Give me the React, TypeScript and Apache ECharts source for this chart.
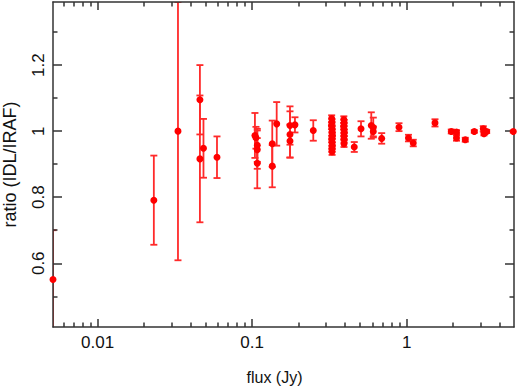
import React, { useEffect, useRef } from "react";
import * as echarts from "echarts";

// flux (Jy), ratio (IDL/IRAF), symmetric error
const flux = [
  0.00514, 0.0231, 0.0331, 0.0459, 0.0459, 0.0484, 0.0592,
  0.1042, 0.1058, 0.1079, 0.1079, 0.1079,
  0.1349, 0.1349, 0.1441, 0.1757, 0.1757, 0.1757, 0.1892, 0.2486,
  0.327, 0.329, 0.326, 0.330, 0.328, 0.331, 0.327, 0.329, 0.330, 0.328, 0.329,
  0.392, 0.394, 0.391, 0.393, 0.395, 0.392, 0.394, 0.393,
  0.458, 0.5063, 0.5901, 0.6079, 0.6079, 0.689, 0.8918, 1.027, 1.103,
  1.525, 1.944, 2.101, 2.101, 2.395, 2.739, 3.131, 3.164, 3.294, 4.898,
];
const ratio = [
  0.551, 0.791, 1.0, 1.095, 0.916, 0.948, 0.921,
  0.987, 0.98, 0.957, 0.944, 0.903,
  0.962, 0.894, 1.022, 1.017, 0.99, 0.97, 1.019, 1.002,
  1.038, 1.027, 1.016, 1.006, 0.996, 0.986, 0.976, 0.966, 0.956, 0.946, 0.938,
  1.035, 1.025, 1.015, 1.005, 0.995, 0.985, 0.975, 0.962,
  0.952, 1.007, 1.017, 1.011, 0.999, 0.978, 1.012, 0.979, 0.964,
  1.025, 0.999, 0.997, 0.979, 0.974, 0.999, 1.007, 0.992, 0.999, 0.999,
];
const err = [
  0.149, 0.135, 0.391, 0.105, 0.192, 0.089, 0.063,
  0.068, 0.033, 0.05, 0.058, 0.076,
  0.07, 0.064, 0.066, 0.058, 0.07, 0.05, 0.023, 0.031,
  0.01, 0.009, 0.01, 0.009, 0.01, 0.009, 0.01, 0.009, 0.01, 0.009, 0.01,
  0.01, 0.009, 0.01, 0.009, 0.01, 0.009, 0.01, 0.01,
  0.015, 0.023, 0.04, 0.03, 0.015, 0.016, 0.012, 0.01, 0.01,
  0.011, 0.006, 0.006, 0.008, 0.006, 0.004, 0.008, 0.005, 0.005, 0.003,
];

const xMajor = [0.01, 0.1, 1];
const xMinor = [
  0.006, 0.007, 0.008, 0.009, 0.02, 0.03, 0.04, 0.05, 0.06, 0.07, 0.08, 0.09,
  0.2, 0.3, 0.4, 0.5, 0.6, 0.7, 0.8, 0.9, 2, 3, 4, 5,
];
const yMajor = [0.6, 0.8, 1.0, 1.2];
const yMinor = [0.5, 0.7, 0.9, 1.1, 1.3];

const XMIN = 0.00514;
const XMAX = 4.95;
const YMIN = 0.407;
const YMAX = 1.391;

const AXIS_COLOR = "#333";
const FONT = "Liberation Sans";
const fmt = (v: number) => String(+Number(v).toPrecision(6));

function xAxisDef(position: "bottom" | "top", major: boolean, withLabels: boolean, name?: string) {
  return {
    type: "log",
    logBase: 10,
    min: XMIN,
    max: XMAX,
    position,
    gridIndex: 0,
    z: 1.5,
    name: name || "",
    nameLocation: "middle",
    nameGap: 42,
    nameTextStyle: { fontFamily: FONT, fontSize: 16, color: "#111", padding: [0, 18, 0, 0] },
    axisLine: { show: major, lineStyle: { color: AXIS_COLOR, width: 1.5 } },
    axisTick: {
      show: true,
      inside: true,
      length: major ? 8 : 4.5,
      customValues: major ? xMajor : xMinor,
      lineStyle: { color: AXIS_COLOR, width: 1.5 },
    },
    axisLabel: withLabels
      ? {
          show: true,
          customValues: xMajor,
          formatter: fmt,
          margin: 7,
          fontFamily: FONT,
          fontSize: 17,
          color: "#111",
        }
      : { show: false },
    splitLine: { show: false },
    minorTick: { show: false },
  };
}

function yAxisDef(position: "left" | "right", major: boolean, withLabels: boolean, name?: string) {
  return {
    type: "value",
    min: YMIN,
    max: YMAX,
    position,
    gridIndex: 0,
    z: 1.5,
    name: name || "",
    nameLocation: "middle",
    nameGap: 34,
    nameTextStyle: { fontFamily: FONT, fontSize: 18, color: "#111" },
    axisLine: { show: major, lineStyle: { color: AXIS_COLOR, width: 1.5 } },
    axisTick: {
      show: true,
      inside: true,
      length: major ? 9 : 4.5,
      customValues: major ? yMajor : yMinor,
      lineStyle: { color: AXIS_COLOR, width: 1.5 },
    },
    axisLabel: withLabels
      ? {
          show: true,
          customValues: yMajor,
          formatter: fmt,
          rotate: 90,
          margin: 6,
          fontFamily: FONT,
          fontSize: 17,
          color: "#111",
        }
      : { show: false },
    splitLine: { show: false },
  };
}

export default function App() {
  const ref = useRef<HTMLDivElement>(null);

  useEffect(() => {
    if (!ref.current) return;
    const chart = echarts.init(ref.current, undefined, { renderer: "svg" });
    const points = flux.map((f, i) => [f, ratio[i], err[i]]);

    chart.setOption({
      animation: false,
      backgroundColor: "#fff",
      grid: {
        left: 53,
        right: 4,
        top: 2,
        bottom: 61,
        show: false,
        containLabel: false,
        outerBoundsMode: "none",
      },
      xAxis: [
        xAxisDef("bottom", true, true, "flux (Jy)"),
        xAxisDef("bottom", false, false),
        xAxisDef("top", true, false),
        xAxisDef("top", false, false),
      ],
      yAxis: [
        yAxisDef("left", true, true, "ratio (IDL/IRAF)"),
        yAxisDef("left", false, false),
        yAxisDef("right", true, false),
        yAxisDef("right", false, false),
      ],
      series: [
        {
          type: "custom",
          xAxisIndex: 0,
          yAxisIndex: 0,
          z: 1,
          clip: true,
          data: points,
          encode: { x: 0, y: 1 },
          renderItem: (params: any, api: any) => {
            const x = api.value(0);
            const y = api.value(1);
            const e = api.value(2);
            const t = api.coord([x, y + e]);
            const b = api.coord([x, y - e]);
            const c = 3.5;
            const style = { stroke: "#ff2a2a", lineWidth: 1.8 };
            return {
              type: "group",
              children: [
                { type: "line", shape: { x1: t[0], y1: t[1], x2: b[0], y2: b[1] }, style },
                { type: "line", shape: { x1: t[0] - c, y1: t[1], x2: t[0] + c, y2: t[1] }, style },
                { type: "line", shape: { x1: b[0] - c, y1: b[1], x2: b[0] + c, y2: b[1] }, style },
              ],
            };
          },
        },
        {
          type: "scatter",
          xAxisIndex: 0,
          yAxisIndex: 0,
          z: 2,
          symbol: "circle",
          symbolSize: 7,
          itemStyle: { color: "#ff0000", opacity: 1 },
          data: points.map((p) => [p[0], p[1]]),
        },
      ],
    });

    return () => chart.dispose();
  }, []);

  return <div ref={ref} style={{ width: 518, height: 388, position: "absolute", left: 0, top: 0 }} />;
}
